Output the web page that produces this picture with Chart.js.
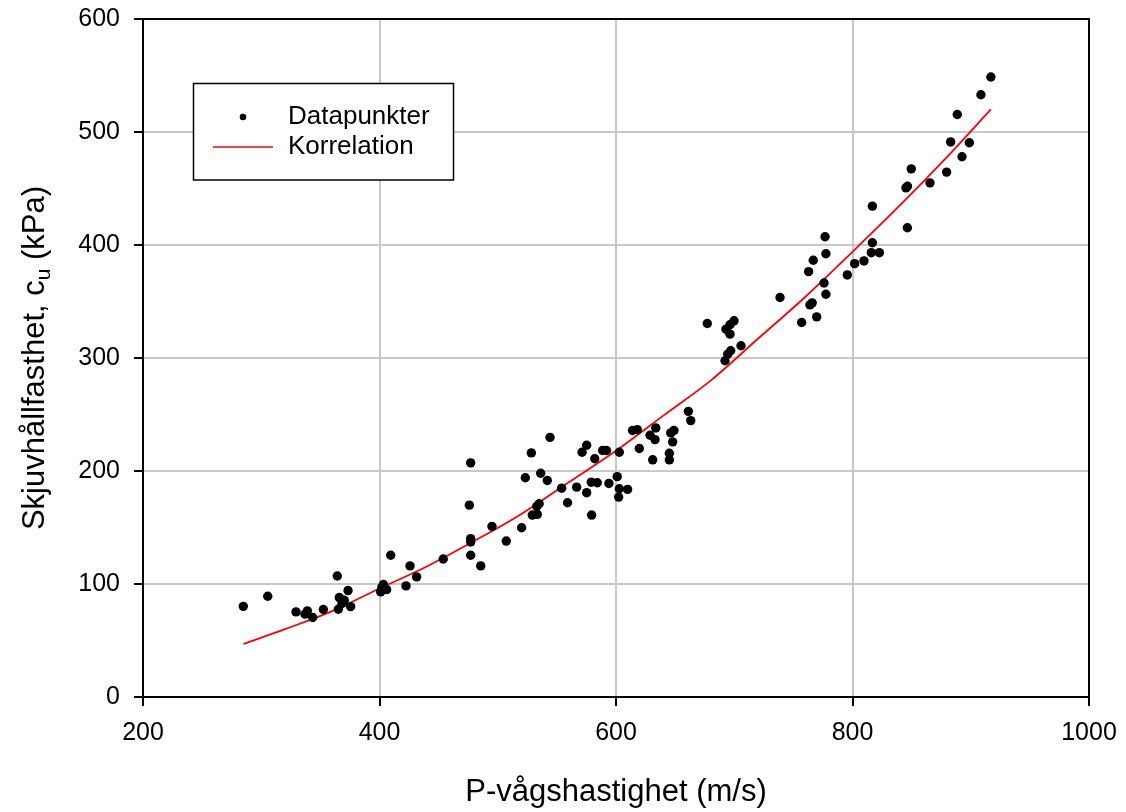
<!DOCTYPE html>
<html><head><meta charset="utf-8">
<script src="https://cdn.jsdelivr.net/npm/chart.js@4/dist/chart.umd.min.js"></script>
<style>html,body{margin:0;padding:0;background:#fff}#wrap{width:1126px;height:812px;position:relative}</style>
</head><body><div id="wrap"><canvas id="c" width="1126" height="812"></canvas></div>
<script>
// ---- data ----
const pointX = [284.8,305.5,329.4,337,339,343.5,352.5,364.3,366,365.2,370.2,368.3,373.4,375.6,401,403.3,406,402,409.5,422.4,425.8,431.4,
  453.9,477.1,476,477.1,477.1,477.1,485.6,495.1,507.2,520.2,523.3,528.4,529.2,533.4,533,535,536.3,541.9,544.2,554,559,566.7,571.3,575.2,575.2,579.1,579.4,582,584.2,588.7,592,594,601,602.8,602.2,
  602.8,609.8,614,618,619.7,628.8,633.6,633,631,645.1,645.1,646.3,649,647.9,661.2,663.2,
  677.2,693,699.8,696.4,696.4,705.7,697,694.5,692.2,738.7,
  776.8,777.5,766.8,762.9,775.9,777.5,764,765.9,769.7,757,795.6,801.8,809.7,816.8,815.9,822.7,
  816.8,846.4,845.2,846.5,849.7,865.5,879.6,883,892.6,898.8,888.6,908.6,917];
const pointY = [80.2,89.2,75.3,73.3,76.2,70.4,77.4,107.1,88,77.7,85.6,82.7,94.2,80,93,99.5,95,97,125.4,98.3,116,106.3,
  122.1,207.2,169.8,140.1,137.2,125.4,116,151,138,149.8,194,216,161,161.6,168.7,171,198,191.6,229.8,184.8,171.9,185.7,216.6,222.8,180.8,190.1,161,210.8,189.6,218.1,218.1,189,195,184.3,176.9,
  216.6,183.7,235.8,236.6,219.9,231.6,238.1,227.8,209.9,215.7,209.9,233.7,235.8,225.8,252.8,244.6,
  330.5,325.5,332.9,329.4,321.1,310.8,306.4,303.4,297.6,353.5,
  407.3,392.3,386.5,376.4,366.4,356.4,347,348.8,336.4,331.4,373.5,383.5,385.9,402,393.2,393.2,
  434.4,415.3,450.6,452,467.4,455,464.5,491.2,478.1,490.5,515.5,533,548.7];
const curveX = [285,320,360,400,440,480,520,560,600,640,680,720,760,800,840,880,917];
const curveY = [47,60,76,96,115.5,138,162,190,218,249,280,317,354,394,435,478,520];
const xTickValues = [200,400,600,800,1000];
const yTickValues = [0,100,200,300,400,500,600];
const seriesLabels = ['Datapunkter','Korrelation'];
const xTitle = 'P-vågshastighet (m/s)';
const yTitleParts = ['Skjuvhållfasthet, c','u',' (kPa)'];

const FONT = '"Liberation Sans", Arial, sans-serif';

const pointData = pointX.map((x,i)=>({x, y: pointY[i]}));
const curveData = curveX.map((x,i)=>({x, y: curveY[i]}));

const decor = {
  id: 'decor',
  beforeDatasetsDraw(chart){
    const {ctx, chartArea:a} = chart;
    ctx.save();
    ctx.strokeStyle = '#000'; ctx.lineWidth = 2;
    ctx.strokeRect(a.left, a.top, a.right-a.left, a.bottom-a.top);
    ctx.restore();
  },
  afterDatasetsDraw(chart){
    const {ctx, chartArea:a} = chart;
    const ds = chart.data.datasets;
    ctx.save();
    // legend box
    const bx = 193.5, by = 83.5, bw = 260, bh = 96.5;
    ctx.fillStyle = '#fff'; ctx.fillRect(bx, by, bw, bh);
    ctx.strokeStyle = '#000'; ctx.lineWidth = 1.5; ctx.strokeRect(bx, by, bw, bh);
    ctx.fillStyle = ds[0].backgroundColor;
    ctx.beginPath(); ctx.arc(243, 117, 3.3, 0, Math.PI*2); ctx.fill();
    ctx.strokeStyle = ds[1].borderColor; ctx.lineWidth = 1.6;
    ctx.beginPath(); ctx.moveTo(213, 147); ctx.lineTo(273, 147); ctx.stroke();
    ctx.fillStyle = '#000'; ctx.font = '26px ' + FONT; ctx.textBaseline = 'middle'; ctx.textAlign = 'left';
    ctx.fillText(ds[0].label, 288, 117);
    ctx.fillText(ds[1].label, 288, 147);
    // x title
    ctx.font = '31px ' + FONT; ctx.textAlign = 'center';
    ctx.fillText(xTitle, (a.left + a.right)/2, 792);
    // y title with subscript
    ctx.translate(35, (a.top + a.bottom)/2);
    ctx.rotate(-Math.PI/2);
    const big = '31px ' + FONT, small = '21px ' + FONT;
    ctx.font = big; const w1 = ctx.measureText(yTitleParts[0]).width, w3 = ctx.measureText(yTitleParts[2]).width;
    ctx.font = small; const w2 = ctx.measureText(yTitleParts[1]).width;
    let x0 = -(w1 + w2 + w3)/2;
    ctx.textAlign = 'left';
    ctx.font = big; ctx.fillText(yTitleParts[0], x0, 0); x0 += w1;
    ctx.font = small; ctx.fillText(yTitleParts[1], x0, 9); x0 += w2;
    ctx.font = big; ctx.fillText(yTitleParts[2], x0, 0);
    ctx.restore();
  }
};

new Chart(document.getElementById('c'), {
  type: 'scatter',
  data: {
    datasets: [
      { label: seriesLabels[0], data: pointData, showLine: false, pointRadius: 4.7, pointHoverRadius: 4.7,
        backgroundColor: '#000', borderColor: '#000', borderWidth: 0, order: 0 },
      { type: 'line', label: seriesLabels[1], data: curveData, showLine: true, pointRadius: 0, pointHoverRadius: 0,
        borderColor: '#ff0000', backgroundColor: '#ff0000', borderWidth: 1.8, fill: false,
        cubicInterpolationMode: 'monotone', order: 1 }
    ]
  },
  options: {
    responsive: false, devicePixelRatio: 1, animation: false,
    layout: { padding: { top: 19, right: 37, left: 0, bottom: 0 } },
    plugins: { legend: { display: false }, tooltip: { enabled: false }, title: { display: false } },
    scales: {
      x: {
        type: 'linear', min: 200, max: 1000,
        afterBuildTicks: s => { s.ticks = xTickValues.map(v => ({value: v})); },
        afterFit: s => { s.height = 115; s.paddingLeft = 0; s.paddingRight = 0; },
        ticks: { color: '#000', font: { family: FONT, size: 25 }, padding: 12, maxRotation: 0, callback: v => String(v) },
        grid: { color: '#c8c8c8', lineWidth: 2, tickColor: '#000', tickLength: 9, tickWidth: 2 },
        border: { color: '#000', width: 2 }
      },
      y: {
        type: 'linear', min: 0, max: 600,
        afterBuildTicks: s => { s.ticks = yTickValues.map(v => ({value: v})); },
        afterFit: s => { s.width = 143; s.paddingTop = 0; s.paddingBottom = 0; },
        ticks: { color: '#000', font: { family: FONT, size: 25 }, padding: 14, callback: v => String(v) },
        grid: { color: '#c8c8c8', lineWidth: 2, tickColor: '#000', tickLength: 9, tickWidth: 2 },
        border: { color: '#000', width: 2 }
      }
    }
  },
  plugins: [decor]
});
</script>
</body></html>
